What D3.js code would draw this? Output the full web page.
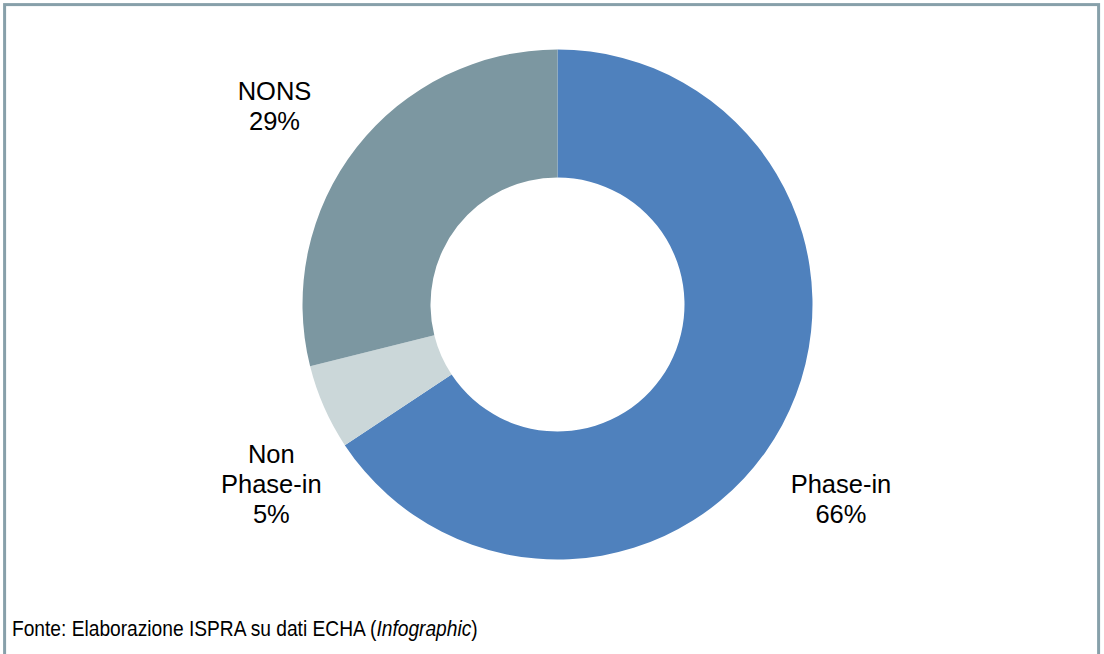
<!DOCTYPE html>
<html>
<head>
<meta charset="utf-8">
<script src="https://cdn.jsdelivr.net/npm/d3@7"></script>
<style>
  html, body { margin: 0; padding: 0; background: #fff; }
  svg { display: block; }
</style>
</head>
<body>
<div id="chart"></div>
<script>
// data (percent of registrations)
var categories = ["Phase-in", "Non Phase-in", "NONS"];
var values = [65.7, 5.4, 28.9];
var labelLines = [["Phase-in"], ["Non", "Phase-in"], ["NONS"]];
var colors = ["#4f81bd", "#cbd7d9", "#7c97a1"];
var source = "Fonte: Elaborazione ISPRA su dati ECHA (";
var sourceItalic = "Infographic";

// chart dimensions
var width = 1104;
var height = 654;
var cx = 557.5, cy = 304.5;
var outerR = 255, innerR = 127;
var labelR = 340;
var lineH = 30;
var fontSize = 25.5;

// nudges for the labels (Excel best-fit placement)
var nudge = {
  "Phase-in": [-16, 33],
  "Non Phase-in": [25, 42],
  "NONS": [-15, 11]
};

var dataset = categories.map(function(c, i) {
  return { name: c, value: values[i], lines: labelLines[i], color: colors[i] };
});

var svg = d3.select('#chart')
  .append('svg')
  .attr('width', width)
  .attr('height', height);

// frame
svg.append('rect')
  .attr('x', 4.6)
  .attr('y', 4.6)
  .attr('width', 1094)
  .attr('height', 670)
  .attr('fill', 'none')
  .attr('stroke', '#87a0aa')
  .attr('stroke-width', 3);

var pie = d3.pie()
  .value(function(d) { return d.value; })
  .sort(null);

var arc = d3.arc()
  .innerRadius(innerR)
  .outerRadius(outerR);

var g = svg.append('g')
  .attr('transform', 'translate(' + cx + ',' + cy + ')');

var arcs = pie(dataset);

g.selectAll('path')
  .data(arcs)
  .enter()
  .append('path')
  .attr('d', arc)
  .attr('fill', function(d) { return d.data.color; });

// labels
var fmt = function(v) { return Math.round(v) + '%'; };

var labels = g.selectAll('text.label')
  .data(arcs)
  .enter()
  .append('text')
  .attr('class', 'label')
  .attr('text-anchor', 'middle')
  .attr('font-family', 'Liberation Sans, Arial, sans-serif')
  .attr('font-size', fontSize)
  .attr('fill', '#000');

labels.each(function(d) {
  var a = (d.startAngle + d.endAngle) / 2;
  var n = nudge[d.data.name];
  var x = labelR * Math.sin(a) + n[0];
  var y = -labelR * Math.cos(a) + n[1];
  var lines = d.data.lines.concat([fmt(d.data.value)]);
  var cap = fontSize * 0.716 / 2;
  var t = d3.select(this);
  lines.forEach(function(l, i) {
    t.append('tspan')
      .attr('x', x)
      .attr('y', y + (i - (lines.length - 1) / 2) * lineH + cap)
      .text(l);
  });
});

// source note, squeezed horizontally like a narrow face
var noteG = svg.append('g');
var note = noteG.append('text')
  .attr('x', 0)
  .attr('y', 0)
  .attr('font-family', 'Liberation Sans, Arial, sans-serif')
  .attr('font-size', 22)
  .attr('fill', '#000');
note.append('tspan').text(source);
note.append('tspan').attr('font-style', 'italic').text(sourceItalic);
note.append('tspan').text(')');
var w = note.node().getComputedTextLength();
noteG.attr('transform', 'translate(12,636) scale(' + (466 / w) + ',1)');
</script>
</body>
</html>
